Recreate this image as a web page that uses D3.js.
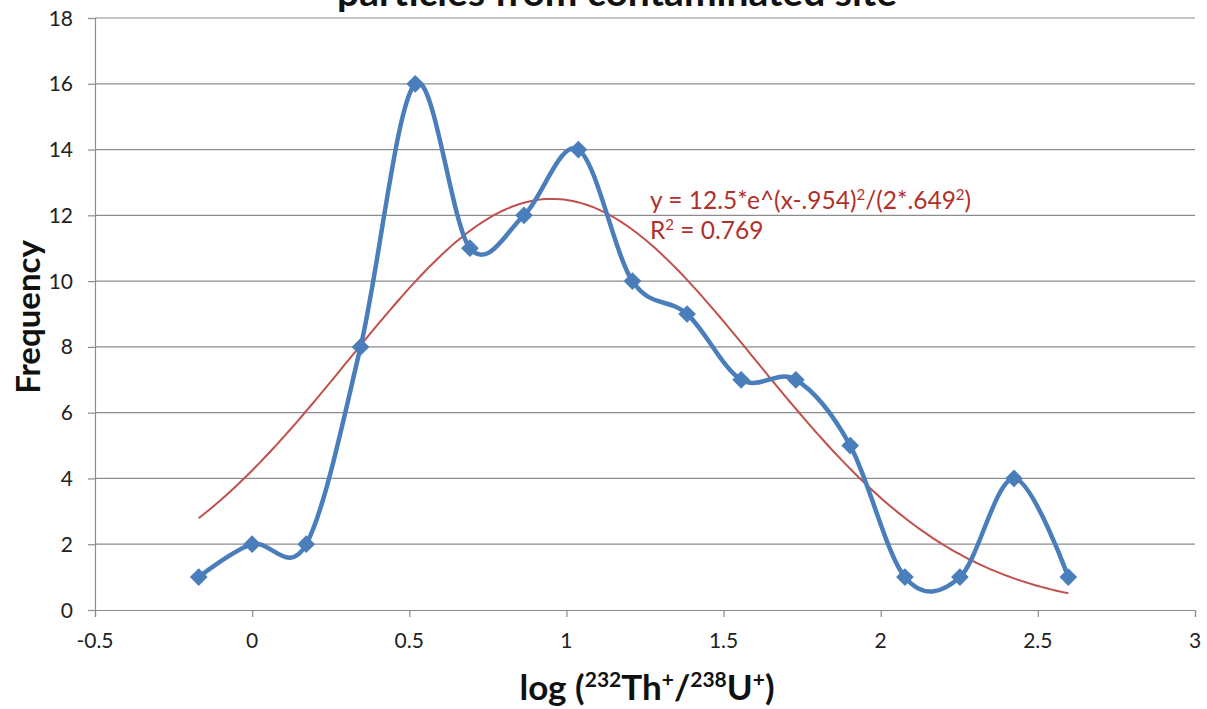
<!DOCTYPE html>
<html>
<head>
<meta charset="utf-8">
<script src="https://cdn.jsdelivr.net/npm/d3@7"></script>
<style>
  html, body { margin: 0; padding: 0; background: #fff; }
  svg { display: block; }
  text { font-family: Lato, "Open Sans", "Liberation Sans", sans-serif; }
</style>
</head>
<body>
<svg id="chart" width="1207" height="709"></svg>
<script>
// Histogram of log isotope ratios (bin centres and counts)
const binCentres = [-0.17, 0.0, 0.172, 0.345, 0.519, 0.693, 0.865, 1.038, 1.21, 1.384, 1.556, 1.73, 1.903, 2.077, 2.252, 2.424, 2.597];
const counts     = [1, 2, 2, 8, 16, 11, 12, 14, 10, 9, 7, 7, 5, 1, 1, 4, 1];

// Gaussian fit parameters as quoted on the chart
const fitAmplitude = 12.5;
const fitMean = 0.954;
const fitSigma = 0.649;
const fitLabel = ["y = 12.5*e^(x-.954)", "2", "/(2*.649", "2", ")"];
const fitR2 = "0.769";

const xTicks = [-0.5, 0, 0.5, 1, 1.5, 2, 2.5, 3];
const yTicks = [0, 2, 4, 6, 8, 10, 12, 14, 16, 18];

const svg = d3.select("#chart");
const plot = { left: 95, right: 1195, top: 18, bottom: 610 };

const x = d3.scaleLinear().domain([-0.5, 3]).range([plot.left, plot.right]);
const y = d3.scaleLinear().domain([0, 18]).range([plot.bottom, plot.top]);

const gridColour = "#8c8c8c";

// Horizontal gridlines
svg.append("g")
  .selectAll("line")
  .data(yTicks.filter(d => d > 0))
  .join("line")
  .attr("x1", plot.left).attr("x2", plot.right)
  .attr("y1", d => y(d)).attr("y2", d => y(d))
  .attr("stroke", gridColour).attr("stroke-width", 1.2);

// Y axis: ticks drawn by d3, labels written as plain text
const yAxis = svg.append("g")
  .attr("transform", `translate(${plot.left},0)`)
  .call(d3.axisLeft(y).tickValues(yTicks).tickSize(7).tickFormat(""));
yAxis.select(".domain").attr("stroke", gridColour).attr("stroke-width", 1.2);
yAxis.selectAll(".tick line").attr("stroke", gridColour).attr("stroke-width", 1.2);
svg.append("g")
  .selectAll("text")
  .data(yTicks)
  .join("text")
  .attr("x", plot.left - 22)
  .attr("y", d => y(d))
  .attr("dy", "0.36em")
  .attr("text-anchor", "end")
  .style("font-size", "21px")
  .attr("fill", "#222")
  .text(d3.format("d"));

// X axis
const xAxis = svg.append("g")
  .attr("transform", `translate(0,${plot.bottom})`)
  .call(d3.axisBottom(x).tickValues(xTicks).tickSize(7).tickFormat(""));
xAxis.select(".domain").attr("stroke", gridColour).attr("stroke-width", 1.2);
xAxis.selectAll(".tick line").attr("stroke", gridColour).attr("stroke-width", 1.2);
svg.append("g")
  .selectAll("text")
  .data(xTicks)
  .join("text")
  .attr("x", d => x(d))
  .attr("y", plot.bottom + 38)
  .attr("text-anchor", "middle")
  .style("font-size", "21px")
  .attr("fill", "#222")
  .text(d => String(d));

// Fitted Gaussian trendline
const gauss = v => fitAmplitude * Math.exp(-((v - fitMean) ** 2) / (2 * fitSigma ** 2));
const fitXs = d3.range(0, 201).map(i => binCentres[0] + (binCentres[binCentres.length - 1] - binCentres[0]) * i / 200);
svg.append("path")
  .datum(fitXs)
  .attr("fill", "none")
  .attr("stroke", "#c0504d")
  .attr("stroke-width", 2)
  .attr("d", d3.line().x(d => x(d)).y(d => y(gauss(d))));

// Smoothed frequency line
const pts = binCentres.map((c, i) => [c, counts[i]]);
svg.append("path")
  .datum(pts)
  .attr("fill", "none")
  .attr("stroke", "#4a7ebb")
  .attr("stroke-width", 4.5)
  .attr("stroke-linejoin", "round")
  .attr("d", d3.line().x(d => x(d[0])).y(d => y(d[1])).curve(d3.curveCardinal.tension(0)));

// Diamond markers
svg.append("g")
  .selectAll("path")
  .data(pts)
  .join("path")
  .attr("transform", d => `translate(${x(d[0])},${y(d[1])})`)
  .attr("d", d3.symbol(d3.symbolDiamond2, 200)())
  .attr("fill", "#4a7ebb");

// Trendline equation
const eq = svg.append("text")
  .attr("x", 650).attr("y", 209)
  .style("font-size", "24.5px").attr("fill", "#b0302c");
eq.append("tspan").text(fitLabel[0]);
eq.append("tspan").style("font-size", "15px").attr("dy", -9).text(fitLabel[1]);
eq.append("tspan").attr("dy", 9).text(fitLabel[2]);
eq.append("tspan").style("font-size", "15px").attr("dy", -9).text(fitLabel[3]);
eq.append("tspan").attr("dy", 9).text(fitLabel[4]);

const r2 = svg.append("text")
  .attr("x", 650).attr("y", 239)
  .style("font-size", "24.5px").attr("fill", "#b0302c");
r2.append("tspan").text("R");
r2.append("tspan").style("font-size", "15px").attr("dy", -9).text("2");
r2.append("tspan").attr("dy", 9).text(" = " + fitR2);

// Title (partly above the page edge)
svg.append("text")
  .attr("x", 617).attr("y", 6)
  .attr("text-anchor", "middle")
  .style("font-size", "39px").attr("font-weight", "bold").attr("fill", "#111")
  .text("particles from contaminated site");

// Axis titles
svg.append("text")
  .attr("transform", "translate(40,317) rotate(-90)")
  .attr("text-anchor", "middle")
  .style("font-size", "33px").attr("font-weight", "bold").attr("fill", "#111")
  .text("Frequency");

const xt = svg.append("text")
  .attr("x", 647).attr("y", 700)
  .attr("text-anchor", "middle")
  .style("font-size", "35px").attr("font-weight", "bold").attr("fill", "#111");
xt.append("tspan").text("log (");
xt.append("tspan").style("font-size", "21px").attr("dy", -13).text("232");
xt.append("tspan").attr("dy", 13).text("Th");
xt.append("tspan").style("font-size", "21px").attr("dy", -13).text("+");
xt.append("tspan").attr("dy", 13).text("/");
xt.append("tspan").style("font-size", "21px").attr("dy", -13).text("238");
xt.append("tspan").attr("dy", 13).text("U");
xt.append("tspan").style("font-size", "21px").attr("dy", -13).text("+");
xt.append("tspan").attr("dy", 13).text(")");
</script>
</body>
</html>
